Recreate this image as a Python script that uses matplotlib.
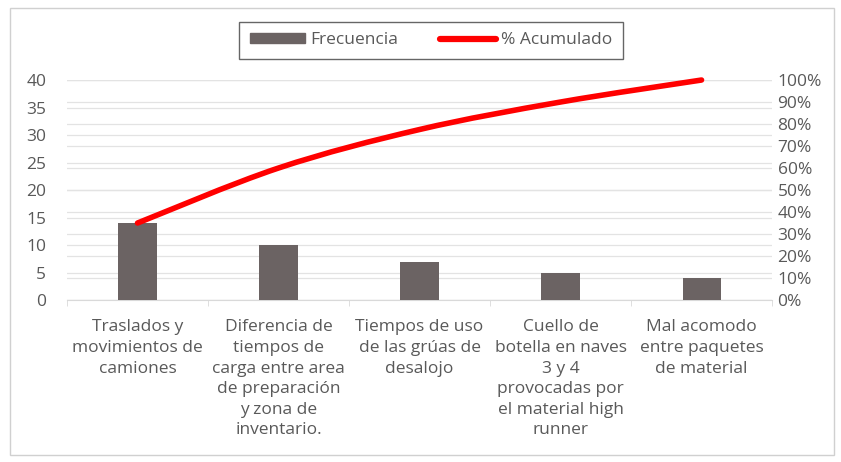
import numpy as np
import matplotlib.pyplot as plt
from matplotlib.path import Path
from matplotlib.patches import PathPatch, Rectangle
from matplotlib.lines import Line2D
from matplotlib.ticker import FuncFormatter

categories = [
    "Traslados y\nmovimientos de\ncamiones",
    "Diferencia de\ntiempos de\ncarga entre area\nde preparación\ny zona de\ninventario.",
    "Tiempos de uso\nde las grúas de\ndesalojo",
    "Cuello de\nbotella en naves\n3 y 4\nprovocadas por\nel material high\nrunner",
    "Mal acomodo\nentre paquetes\nde material",
]
frecuencia = [14, 10, 7, 5, 4]
left_ticks = [0, 5, 10, 15, 20, 25, 30, 35, 40]
right_ticks = [0, 0.1, 0.2, 0.3, 0.4, 0.5, 0.6, 0.7, 0.8, 0.9, 1.0]

acumulado = np.cumsum(frecuencia) / sum(frecuencia)

plt.rcParams['font.family'] = ['Open Sans', 'DejaVu Sans']
txt = '#595959'
bar_c = '#6b6363'
grid_c = '#e3e3e3'
fs = 12.5

fig = plt.figure(figsize=(8.41, 4.62), dpi=100)
fig.patches.append(Rectangle((0.012, 0.015), 0.98, 0.968, transform=fig.transFigure,
                             fill=False, edgecolor='#d0d0d0', lw=1))
ax = fig.add_axes([0.0797, 0.3506, 0.8383, 0.4762])
ax2 = ax.twinx()

x = np.arange(len(categories))
ax.bar(x, frecuencia, width=0.27, color=bar_c, zorder=3)
ax.set_xlim(-0.5, len(categories) - 0.5)
ax.set_ylim(0, 40)
ax.set_yticks(left_ticks)
ax.set_xticks(x)
ax.set_xticklabels(categories, fontsize=fs, color=txt, linespacing=1.38)
ax.set_xticks(np.arange(-0.5, len(categories)), minor=True)
ax.tick_params(axis='x', which='major', length=0, pad=14)
ax.tick_params(axis='x', which='minor', length=4, color='#d9d9d9')
ax.tick_params(axis='y', length=0, labelsize=fs, labelcolor=txt, pad=15)
for s in ['top', 'right', 'left']:
    ax.spines[s].set_visible(False)
ax.spines['bottom'].set_color('#d9d9d9')
# gridlines of both axes, drawn behind the bars
for v in left_ticks:
    ax.axhline(v, color=grid_c, lw=0.9, zorder=0)
for v in right_ticks:
    ax.axhline(v * 40, color=grid_c, lw=0.9, zorder=0)

ax2.set_ylim(0, 1)
ax2.set_yticks(right_ticks)
ax2.yaxis.set_major_formatter(FuncFormatter(lambda v, p: f"{v*100:.0f}%"))
ax2.tick_params(axis='y', length=0, labelsize=fs, labelcolor=txt, pad=4)
for s in ax2.spines.values():
    s.set_visible(False)

# smoothed cumulative line (Catmull-Rom -> Bezier)
pts = np.column_stack([x, acumulado])
verts = [pts[0]]
codes = [Path.MOVETO]
n = len(pts)
for i in range(n - 1):
    p0 = pts[max(i - 1, 0)]
    p1 = pts[i]
    p2 = pts[i + 1]
    p3 = pts[min(i + 2, n - 1)]
    c1 = p1 + (p2 - p0) / 6
    c2 = p2 - (p3 - p1) / 6
    verts += [c1, c2, p2]
    codes += [Path.CURVE4] * 3
ax2.add_patch(PathPatch(Path(verts, codes), fill=False, edgecolor='#ff0000',
                        lw=4, capstyle='round', zorder=5, clip_on=False))

handles = [Rectangle((0, 0), 1, 1, color=bar_c),
           Line2D([0], [0], color='#ff0000', lw=4.5, solid_capstyle='round')]
leg = fig.legend(handles, ['Frecuencia', '% Acumulado'], loc='center',
                 bbox_to_anchor=(0.5125, 0.913), ncol=2, frameon=True,
                 fancybox=False, fontsize=fs, handlelength=3.2, handleheight=0.55,
                 handletextpad=0.3, columnspacing=2.4, borderpad=0.6,
                 borderaxespad=0)
leg.get_frame().set_edgecolor('#404040')
leg.get_frame().set_linewidth(1)
for t in leg.get_texts():
    t.set_color(txt)

fig.savefig('out.png', dpi=100)
